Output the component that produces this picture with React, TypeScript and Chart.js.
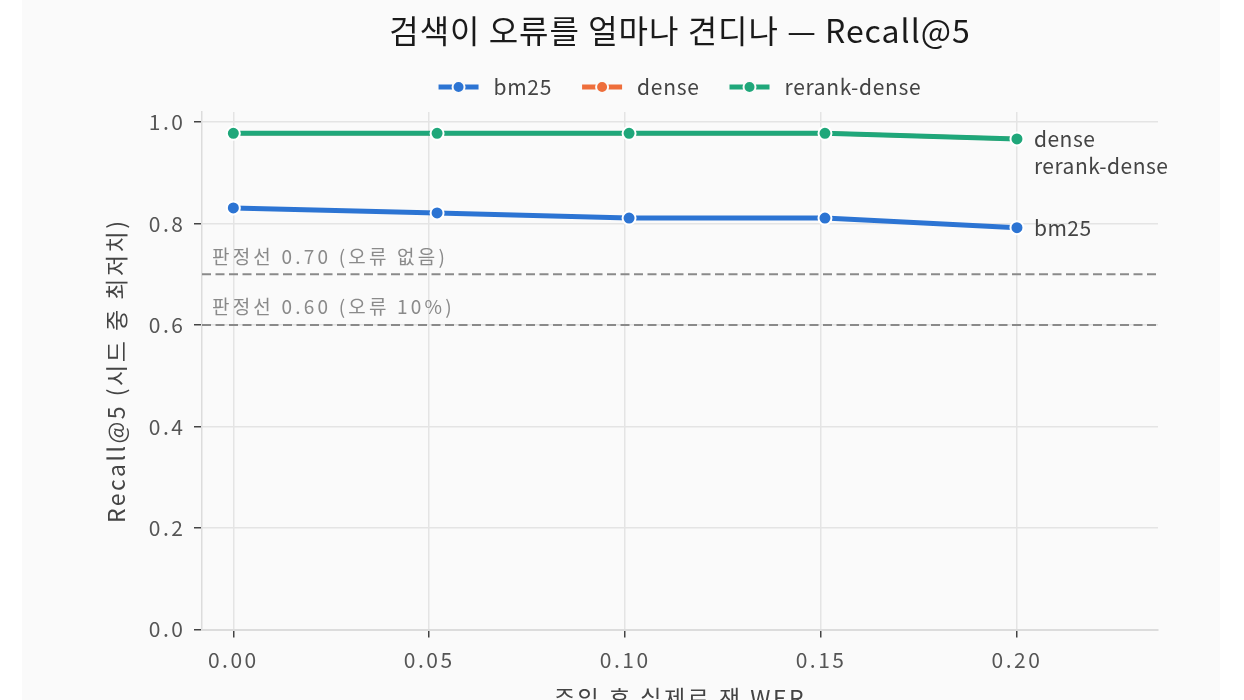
import React, { useEffect, useRef } from "react";
import { Chart, registerables } from "chart.js";

Chart.register(...registerables);

// ---- data ----
const wer = [0, 0.052, 0.101, 0.151, 0.2];
const seriesNames = ["bm25", "dense", "rerank-dense"];
const bm25Recall = [0.831, 0.821, 0.811, 0.811, 0.792];
const denseRecall = [0.978, 0.978, 0.978, 0.978, 0.967];
const rerankDenseRecall = [0.978, 0.978, 0.978, 0.978, 0.967];
const seriesColors = ["#2c74d3", "#ee6e3b", "#1fa77a"];
const thresholds = [0.7, 0.6];
const thresholdLabels = ["판정선 0.70 (오류 없음)", "판정선 0.60 (오류 10%)"];
const chartTitle = "검색이 오류를 얼마나 견디나 — Recall@5";
const xTitle = "주입 후 실제로 잰 WER";
const yTitle = "Recall@5 (시드 중 최저치)";
const X_MIN = -0.008;
const X_MAX = 0.236;
const Y_MIN = 0;
const Y_MAX = 1.02;
const X_STEP = 0.05;
const Y_STEP = 0.2;

const FONT = '"Noto Sans CJK KR", "Noto Sans", sans-serif';
const seriesValues = [bm25Recall, denseRecall, rerankDenseRecall];
const BASE_SPACING = "2.5px";

const overlayPlugin = {
  id: "overlay",
  beforeUpdate(chart: any) {
    chart.ctx.letterSpacing = BASE_SPACING;
  },
  beforeDraw(chart: any) {
    chart.ctx.letterSpacing = BASE_SPACING;
  },
  afterDatasetsDraw(chart: any) {
    const { ctx, scales } = chart;
    const xs = scales.x;
    const ys = scales.y;
    ctx.save();
    // threshold labels
    ctx.font = `19px ${FONT}`;
    ctx.letterSpacing = "3.2px";
    ctx.fillStyle = "#8a8a8a";
    ctx.textAlign = "left";
    ctx.textBaseline = "middle";
    thresholds.forEach((t, i) => {
      const px = xs.getPixelForValue(X_MIN) + 10;
      const py = ys.getPixelForValue(t) - 18;
      ctx.fillText(thresholdLabels[i], px, py);
    });
    // end labels with collision avoidance
    const items = seriesNames.map((name, i) => {
      const vals = seriesValues[i];
      const last = vals.length - 1;
      return {
        name,
        idx: i,
        x: xs.getPixelForValue(wer[last]) + 17,
        y: ys.getPixelForValue(vals[last]),
      };
    });
    items.sort((a, b) => a.y - b.y || a.idx - b.idx);
    let prev = -Infinity;
    ctx.font = `21px ${FONT}`;
    ctx.letterSpacing = "0.5px";
    ctx.fillStyle = "#444";
    items.forEach((it) => {
      let y = it.y;
      if (y < prev + 27) y = prev + 27;
      prev = y;
      ctx.fillText(it.name, it.x, y);
    });
    ctx.restore();
  },
  afterDraw(chart: any) {
    const { ctx, chartArea } = chart;
    const cx = (chartArea.left + chartArea.right) / 2;
    ctx.save();
    // title
    ctx.font = `32px ${FONT}`;
    ctx.letterSpacing = "1px";
    ctx.fillStyle = "#1a1a1a";
    ctx.textAlign = "center";
    ctx.textBaseline = "middle";
    ctx.fillText(chartTitle, cx, 31);
    // legend
    ctx.font = `21px ${FONT}`;
    ctx.letterSpacing = "0.7px";
    const markerW = 40;
    const gapText = 15;
    const gapItem = 30;
    const widths = seriesNames.map((n) => ctx.measureText(n).width);
    const total =
      widths.reduce((s, w) => s + markerW + gapText + w, 0) + gapItem * (seriesNames.length - 1);
    let x = cx - total / 2;
    const y = 87;
    ctx.textAlign = "left";
    seriesNames.forEach((n, i) => {
      ctx.strokeStyle = seriesColors[i];
      ctx.lineWidth = 5;
      ctx.beginPath();
      ctx.moveTo(x, y);
      ctx.lineTo(x + markerW, y);
      ctx.stroke();
      ctx.beginPath();
      ctx.arc(x + markerW / 2, y, 6, 0, Math.PI * 2);
      ctx.fillStyle = seriesColors[i];
      ctx.fill();
      ctx.lineWidth = 2;
      ctx.strokeStyle = "#fafafa";
      ctx.stroke();
      ctx.fillStyle = "#444";
      ctx.fillText(n, x + markerW + gapText, y);
      x += markerW + gapText + widths[i] + gapItem;
    });
    ctx.restore();
  },
};

export default function App() {
  const ref = useRef<HTMLCanvasElement | null>(null);
  useEffect(() => {
    if (!ref.current) return;
    const seriesSets = seriesNames.map((name, i) => {
      const hidden = name === "dense";
      return {
        label: name,
        data: wer.map((x, j) => ({ x, y: seriesValues[i][j] })),
        borderColor: seriesColors[i],
        backgroundColor: seriesColors[i],
        borderWidth: hidden ? 4 : 5,
        pointRadius: hidden ? 5.5 : 6.5,
        pointBackgroundColor: seriesColors[i],
        pointBorderColor: "#ffffff",
        pointBorderWidth: hidden ? 1 : 2,
        tension: 0,
        order: seriesNames.length - 1 - i,
      };
    });
    const thresholdSets = thresholds.map((t, i) => ({
      label: thresholdLabels[i],
      data: [
        { x: X_MIN, y: t },
        { x: X_MAX, y: t },
      ],
      borderColor: "#8a8a8a",
      borderWidth: 2,
      borderDash: [9, 4.5],
      pointRadius: 0,
      order: 10,
    }));
    const tickFont = { family: FONT, size: 21 };
    const gridCommon = {
      color: "#e4e4e4",
      lineWidth: 1.5,
      tickColor: "#444",
      tickLength: 8,
      tickWidth: 1.5,
    };
    const chart = new Chart(ref.current, {
      type: "line",
      data: { datasets: [...seriesSets, ...thresholdSets] as any },
      options: {
        animation: false,
        responsive: false,
        events: [],
        layout: { padding: { left: 0, right: 62, top: 112, bottom: 0 } },
        plugins: {
          legend: { display: false },
          title: { display: false },
          tooltip: { enabled: false },
        },
        scales: {
          x: {
            type: "linear",
            min: X_MIN,
            max: X_MAX,
            ticks: {
              stepSize: X_STEP,
              includeBounds: false,
              callback: (v: any) => Number(v).toFixed(2),
              padding: 10,
              color: "#555",
              font: tickFont,
              maxRotation: 0,
            },
            grid: gridCommon,
            border: { color: "#dcdcdc", width: 2 },
            title: {
              display: true,
              text: xTitle,
              color: "#444",
              font: { family: FONT, size: 23 },
              padding: { top: 0, bottom: 28 },
            },
            afterFit: (s: any) => {
              s.height = 110.5;
            },
          },
          y: {
            type: "linear",
            min: Y_MIN,
            max: Y_MAX,
            ticks: {
              stepSize: Y_STEP,
              includeBounds: false,
              callback: (v: any) => Number(v).toFixed(1),
              padding: 8.5,
              color: "#555",
              font: tickFont,
            },
            grid: gridCommon,
            border: { color: "#dcdcdc", width: 1.5 },
            title: {
              display: true,
              text: yTitle,
              color: "#444",
              font: { family: FONT, size: 23 },
              padding: { top: 80, bottom: 0 },
            },
            afterFit: (s: any) => {
              s.width = 180;
            },
          },
        },
      } as any,
      plugins: [overlayPlugin],
    });
    return () => chart.destroy();
  }, []);
  return (
    <div
      style={{
        position: "fixed",
        left: 0,
        top: 0,
        width: 1244,
        height: 700,
        background: "#ffffff",
        overflow: "hidden",
      }}
    >
      <div
        style={{
          position: "absolute",
          left: 22,
          top: 0,
          width: 1198,
          height: 740,
          background: "#fafafa",
        }}
      >
        <canvas ref={ref} width={1198} height={740} style={{ width: 1198, height: 740, display: "block" }} />
      </div>
    </div>
  );
}
